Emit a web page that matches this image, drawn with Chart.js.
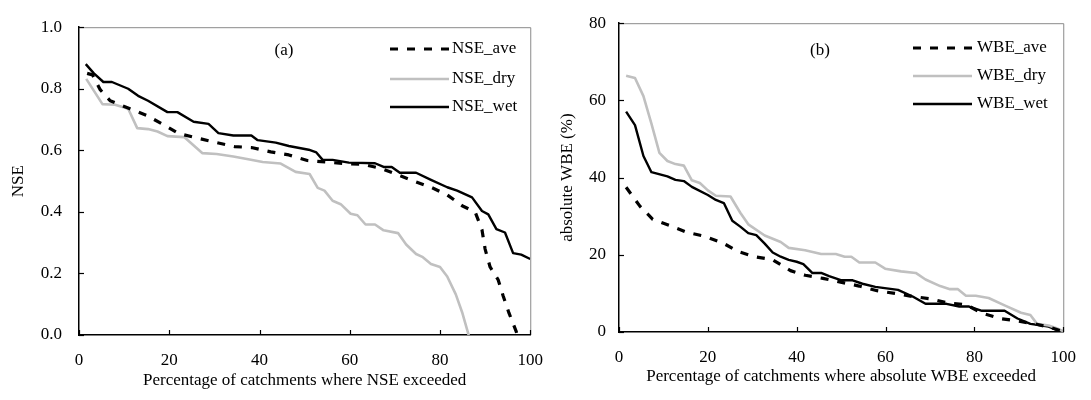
<!DOCTYPE html>
<html><head><meta charset="utf-8">
<script src="https://cdn.jsdelivr.net/npm/chart.js@4.4.1/dist/chart.umd.min.js"></script>
<style>
html,body{margin:0;padding:0;background:#fff;width:1091px;height:400px;overflow:hidden}
canvas{position:absolute;top:0}
</style></head><body>
<canvas id="ca" width="558" height="400" style="left:0"></canvas>
<canvas id="cb" width="546" height="400" style="left:545px"></canvas>
<script>
// ---------- Panel (a): NSE ----------
const nseAveX = [1.8, 3.0, 4.7, 6.9, 11.3, 14.9, 18.9, 22.2, 26.2, 30.5, 34.5, 38.2, 42.5, 46.5, 50.6, 54.7, 58.7, 63.1, 67.0, 70.7, 74.4, 78.0, 81.6, 84.9, 87.8, 89.3, 90.0, 91.1, 92.9, 94.0, 95.3, 96.9, 98.5];
const nseAveY = [0.850, 0.845, 0.797, 0.761, 0.735, 0.714, 0.682, 0.654, 0.640, 0.625, 0.612, 0.609, 0.595, 0.585, 0.567, 0.562, 0.557, 0.554, 0.541, 0.520, 0.499, 0.480, 0.455, 0.420, 0.399, 0.342, 0.279, 0.221, 0.179, 0.127, 0.071, 0.011, -0.08];
const nseDryX = [1.6, 5.2, 8.0, 10.9, 12.9, 15.3, 17.4, 19.6, 23.3, 27.3, 30.5, 34.2, 37.8, 40.7, 44.7, 48.0, 51.1, 52.9, 54.4, 56.2, 58.0, 60.2, 61.7, 63.5, 65.6, 67.5, 70.7, 72.5, 74.7, 76.2, 78.0, 80.0, 81.6, 83.5, 84.9, 88.3];
const nseDryY = [0.832, 0.750, 0.748, 0.735, 0.672, 0.669, 0.661, 0.646, 0.643, 0.591, 0.588, 0.580, 0.570, 0.562, 0.557, 0.530, 0.523, 0.478, 0.469, 0.436, 0.425, 0.394, 0.389, 0.359, 0.359, 0.340, 0.331, 0.294, 0.263, 0.253, 0.231, 0.221, 0.190, 0.132, 0.074, -0.10];
const nseWetX = [1.5, 3.3, 5.4, 7.3, 10.9, 13.1, 15.3, 19.6, 21.8, 25.4, 28.7, 30.9, 34.2, 38.2, 39.6, 43.6, 46.5, 50.9, 52.6, 54.0, 56.2, 59.8, 65.6, 67.5, 69.3, 71.1, 74.7, 78.0, 81.6, 83.8, 87.1, 89.3, 90.7, 92.5, 94.4, 96.2, 98.0, 100];
const nseWetY = [0.880, 0.850, 0.822, 0.822, 0.800, 0.777, 0.761, 0.724, 0.724, 0.693, 0.686, 0.656, 0.648, 0.648, 0.633, 0.625, 0.614, 0.602, 0.593, 0.569, 0.569, 0.560, 0.558, 0.546, 0.546, 0.527, 0.527, 0.504, 0.480, 0.469, 0.447, 0.403, 0.392, 0.344, 0.333, 0.266, 0.261, 0.247];
const nseTickLabels = ['0.0', '0.2', '0.4', '0.6', '0.8', '1.0'];

// ---------- Panel (b): WBE ----------
const wbeAveX = [1.6, 4.7, 7.6, 11.6, 15.3, 19.3, 23.3, 26.9, 30.6, 34.6, 38.6, 41.9, 45.9, 50.4, 54.1, 58.1, 62.1, 66.1, 70.1, 74.1, 78.1, 81.7, 85.7, 90.0, 94.0, 97.0, 100];
const wbeAveY = [37.5, 32.6, 29.2, 27.5, 25.8, 24.8, 23.1, 20.8, 19.5, 18.7, 15.9, 14.7, 13.9, 12.8, 11.9, 10.7, 10.0, 9.2, 8.6, 7.5, 7.1, 4.9, 3.5, 2.8, 2.0, 1.2, 0.1];
const wbeDryX = [1.6, 3.6, 5.5, 7.3, 9.1, 10.9, 12.7, 14.6, 16.4, 18.2, 20.0, 21.8, 25.1, 27.3, 29.1, 32.8, 36.4, 38.2, 41.9, 45.5, 48.8, 50.8, 52.3, 54.1, 57.7, 59.9, 63.5, 66.8, 69.0, 72.3, 74.5, 76.3, 78.1, 80.3, 83.2, 86.8, 90.5, 92.6, 94.1, 96.7, 98.5, 100];
const wbeDryY = [66.4, 65.8, 61.1, 54.0, 46.4, 44.3, 43.5, 43.1, 39.3, 38.6, 36.7, 35.3, 35.1, 30.9, 27.9, 25.0, 23.3, 21.8, 21.2, 20.2, 20.2, 19.5, 19.5, 18.0, 18.0, 16.4, 15.7, 15.3, 13.6, 11.9, 11.1, 11.1, 9.4, 9.4, 8.8, 6.9, 5.0, 4.4, 2.1, 1.7, 1.0, 0.2];
const wbeWetX = [1.6, 3.6, 5.5, 7.3, 10.9, 12.7, 14.6, 16.4, 20.0, 21.8, 23.6, 25.5, 27.3, 29.1, 30.9, 32.8, 34.6, 36.4, 38.2, 40.0, 41.5, 43.5, 45.5, 47.3, 50.1, 52.6, 54.8, 57.7, 62.8, 66.1, 69.0, 73.7, 76.6, 78.8, 81.7, 86.8, 89.7, 92.6, 94.5, 96.7, 99.3, 100];
const wbeWetY = [57.1, 53.6, 45.6, 41.4, 40.3, 39.4, 39.1, 37.6, 35.5, 34.2, 33.4, 28.8, 27.3, 25.6, 25.1, 22.9, 20.6, 19.5, 18.7, 18.2, 17.6, 15.3, 15.3, 14.5, 13.4, 13.4, 12.5, 11.7, 10.9, 9.2, 7.3, 7.3, 6.6, 6.6, 5.5, 5.5, 3.5, 2.1, 1.8, 1.4, 0.2, 0.0];
const wbeTickLabels = ['0', '20', '40', '60', '80'];

const xTickLabels = ['0', '20', '40', '60', '80', '100'];

// ---------- helpers ----------
const FAMILY = "'Liberation Serif', 'Times New Roman', serif";
const FS = 17;
const pts = (xs, ys) => xs.map((x, i) => ({x: x, y: ys[i]}));

const styles = {
  ave: {borderColor: '#000000', borderWidth: 3.2, borderDash: [8, 9], borderCapStyle: 'butt'},
  dry: {borderColor: '#c0c0c0', borderWidth: 2.6, borderDash: []},
  wet: {borderColor: '#000000', borderWidth: 2.4, borderDash: []}
};

const decor = {
  id: 'decor',
  afterDraw(chart, args, o) {
    const {ctx, chartArea: a, scales: {x, y}} = chart;
    ctx.save();
    // gray top/right frame
    ctx.strokeStyle = '#8a8a8a'; ctx.lineWidth = 1;
    ctx.beginPath();
    ctx.moveTo(a.left, a.top + 0.5); ctx.lineTo(a.right + 0.5, a.top + 0.5); ctx.lineTo(a.right + 0.5, a.bottom);
    ctx.stroke();
    // inward tick marks
    ctx.strokeStyle = '#000'; ctx.lineWidth = 1.2;
    x.ticks.forEach(t => {
      const px = Math.round(x.getPixelForValue(t.value)) + 0.5;
      ctx.beginPath(); ctx.moveTo(px, a.bottom); ctx.lineTo(px, a.bottom - 5); ctx.stroke();
    });
    y.ticks.forEach(t => {
      const py = Math.round(y.getPixelForValue(t.value)) + 0.5;
      ctx.beginPath(); ctx.moveTo(a.left, py); ctx.lineTo(a.left + 5, py); ctx.stroke();
    });
    // legend
    ctx.font = FS + 'px ' + FAMILY;
    ctx.textBaseline = 'middle'; ctx.textAlign = 'left'; ctx.fillStyle = '#000';
    chart.data.datasets.forEach((ds, i) => {
      const yy = o.rows[i];
      ctx.strokeStyle = ds.borderColor; ctx.lineWidth = ds.borderWidth;
      ctx.setLineDash(ds.borderDash || []); ctx.lineCap = 'butt';
      ctx.beginPath(); ctx.moveTo(o.x1, yy); ctx.lineTo(o.x2, yy); ctx.stroke();
      ctx.setLineDash([]);
      ctx.fillText(ds.label, o.tx, yy);
    });
    // panel label
    ctx.textAlign = 'center';
    ctx.fillText(o.panel, o.px, o.py);
    ctx.restore();
  }
};

function makeChart(id, datasets, cfg) {
  return new Chart(document.getElementById(id), {
    type: 'line',
    data: {datasets: datasets},
    plugins: [decor],
    options: {
      responsive: false, animation: false, devicePixelRatio: 1,
      parsing: true,
      layout: {padding: {left: 0, right: cfg.padRight, top: 17, bottom: 0}},
      elements: {point: {radius: 0}, line: {tension: 0, borderJoinStyle: 'round', fill: false}},
      plugins: {legend: {display: false}, tooltip: {enabled: false}, decor: cfg.decor},
      scales: {
        x: {
          type: 'linear', min: 0, max: 100,
          afterFit: s => { s.height = cfg.xHeight; },
          ticks: {stepSize: 20, padding: 15, color: '#000', font: {family: FAMILY, size: FS},
                  maxRotation: 0, callback: (v, i) => xTickLabels[i]},
          grid: {display: false, drawTicks: false},
          border: {display: true, color: '#000', width: 1.5},
          title: {display: true, text: cfg.xTitle, color: '#000', font: {family: FAMILY, size: FS},
                  padding: {top: 0, bottom: cfg.xTitlePad}}
        },
        y: {
          type: 'linear', min: cfg.yMin, max: cfg.yMax,
          afterFit: s => { s.width = cfg.yWidth; },
          ticks: {stepSize: cfg.yStep, padding: cfg.yLabelPad, color: '#000', font: {family: FAMILY, size: FS},
                  callback: (v, i) => cfg.yLabels[i]},
          grid: {display: false, drawTicks: false},
          border: {display: true, color: '#000', width: 1.5},
          title: {display: true, text: cfg.yTitle, color: '#000', font: {family: FAMILY, size: FS},
                  padding: {top: cfg.yTitlePad, bottom: 0}}
        }
      }
    }
  });
}

makeChart('ca', [
  Object.assign({label: 'NSE_ave', data: pts(nseAveX, nseAveY)}, styles.ave),
  Object.assign({label: 'NSE_dry', data: pts(nseDryX, nseDryY)}, styles.dry),
  Object.assign({label: 'NSE_wet', data: pts(nseWetX, nseWetY)}, styles.wet)
], {
  padRight: 21, xHeight: 65, yWidth: 79, yMin: 0, yMax: 1, yStep: 0.2, yLabels: nseTickLabels,
  yLabelPad: 17, xTitle: 'Percentage of catchments where NSE exceeded', xTitlePad: 9,
  yTitle: 'NSE', yTitlePad: 8,
  decor: {rows: [49, 79, 107], x1: 390, x2: 449, tx: 452, panel: '(a)', px: 284, py: 51}
});

makeChart('cb', [
  Object.assign({label: 'WBE_ave', data: pts(wbeAveX, wbeAveY)}, styles.ave),
  Object.assign({label: 'WBE_dry', data: pts(wbeDryX, wbeDryY)}, styles.dry),
  Object.assign({label: 'WBE_wet', data: pts(wbeWetX, wbeWetY)}, styles.wet)
], {
  padRight: 16, xHeight: 68, yWidth: 74, yMin: 0, yMax: 80, yStep: 20, yLabels: wbeTickLabels,
  yLabelPad: 13, xTitle: 'Percentage of catchments where absolute WBE exceeded', xTitlePad: 13,
  yTitle: 'absolute WBE (%)', yTitlePad: 12,
  decor: {rows: [48, 76, 104], x1: 368, x2: 427, tx: 432, panel: '(b)', px: 275, py: 51}
});
</script>
</body></html>
